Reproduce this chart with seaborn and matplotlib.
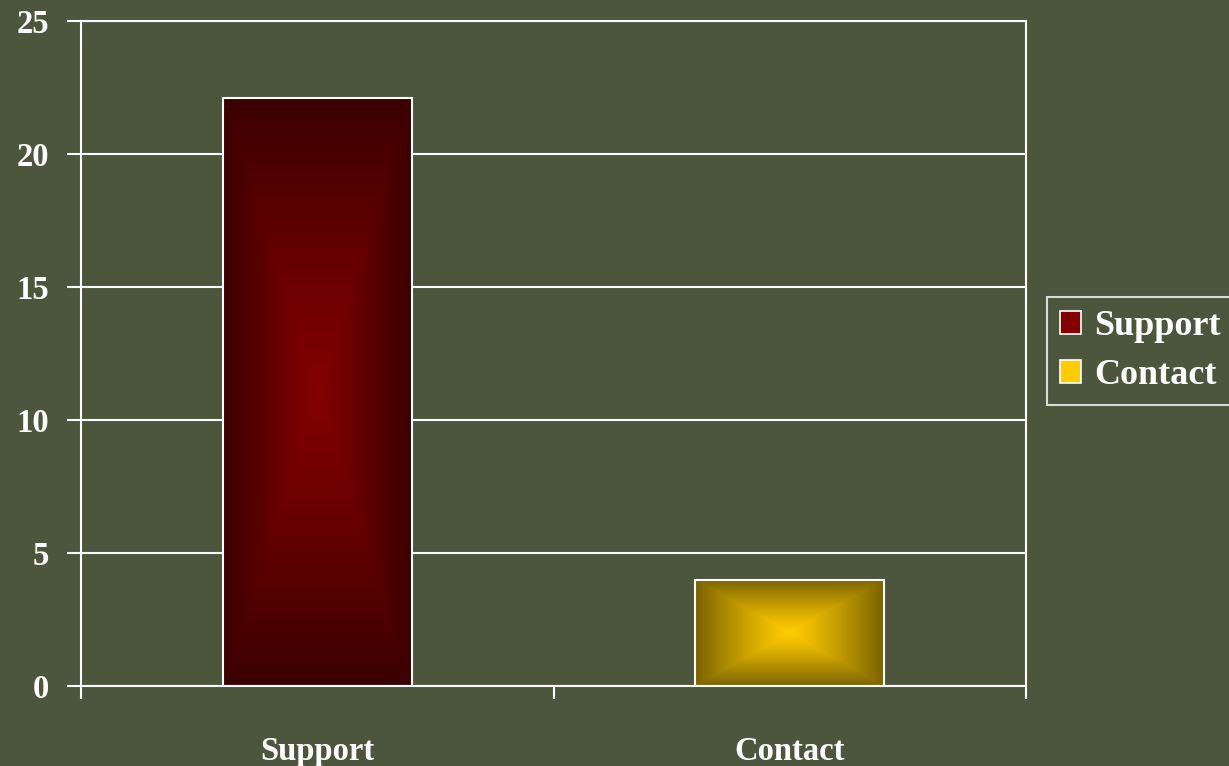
import numpy as np
import pandas as pd
import matplotlib
matplotlib.use("Agg")
import matplotlib.pyplot as plt
from matplotlib.colors import LinearSegmentedColormap
from matplotlib.patches import Patch
import seaborn as sns

categories = ["Support", "Contact"]
values = [22.1, 4.0]
yticks = [0, 5, 10, 15, 20, 25]

bg = "#4B563C"
edge_colors = ["#3A0000", "#7A6200"]
center_colors = ["#820000", "#FFCC00"]

sns.set_theme(style="white")
plt.rcParams["font.family"] = ["Liberation Serif", "DejaVu Serif"]
plt.rcParams["font.weight"] = "bold"

fig = plt.figure(figsize=(12.29, 7.66), dpi=100, facecolor=bg)
ax = fig.add_axes([81/1229, 1-686/766, (1026-81)/1229, (686-21)/766])
ax.set_facecolor(bg)

df = pd.DataFrame({"cat": categories, "val": values})
sns.barplot(data=df, x="cat", y="val", hue="cat", palette=center_colors,
            width=0.4, ax=ax, legend=False, edgecolor="white", linewidth=1.5)

ax.set_xlim(-0.5, 1.5)
ax.set_ylim(0, 25)
ax.set_axisbelow(True)
ax.yaxis.grid(True, color="white", linewidth=1.5)
ax.set_yticks(yticks)

# gradient fills
n = 200
yy, xx = np.mgrid[-1:1:complex(0, n), -1:1:complex(0, n)]
r = np.maximum(np.abs(xx), np.abs(yy)) ** 1.2
for p, ec, cc in zip(ax.patches, edge_colors, center_colors):
    cmap = LinearSegmentedColormap.from_list("g", [cc, ec])
    x0, y0 = p.get_x(), p.get_y()
    w, h = p.get_width(), p.get_height()
    im = ax.imshow(r, cmap=cmap, extent=[x0, x0 + w, y0, y0 + h],
                   aspect="auto", zorder=1.5, interpolation="bilinear", origin="lower")
    im.set_clip_path(p)
    p.set_facecolor("none")
    p.set_zorder(2)

ax.set_xlim(-0.5, 1.5)
ax.set_ylim(0, 25)

for s in ax.spines.values():
    s.set_color("white")
    s.set_linewidth(1.5)

ax.set_xlabel("")
ax.set_ylabel("")
ax.tick_params(axis="y", colors="white", length=10, width=1.5, direction="out",
               pad=13, labelsize=23.5, left=True)
ax.tick_params(axis="x", which="major", length=0, pad=36, labelsize=23.5, colors="white")
ax.set_xticks([-0.5, 0.5, 1.5], minor=True)
ax.tick_params(axis="x", which="minor", length=9, width=1.5, color="white",
               direction="out", bottom=True)
for lab in ax.get_xticklabels() + ax.get_yticklabels():
    lab.set_color("white")
    lab.set_fontweight("bold")

handles = [Patch(facecolor=c, edgecolor="white", linewidth=1.2) for c in center_colors]
leg = fig.legend(handles, categories, loc="center left",
                 bbox_to_anchor=(1047/1229, 1-351/766), frameon=True,
                 fontsize=26, handlelength=0.6, handleheight=0.6,
                 handletextpad=0.35, borderpad=0.35, labelspacing=0.45,
                 fancybox=False, borderaxespad=0)
leg.get_frame().set_facecolor(bg)
leg.get_frame().set_edgecolor("white")
leg.get_frame().set_linewidth(1.5)
for t in leg.get_texts():
    t.set_color("white")
    t.set_fontweight("bold")

fig.savefig("out.png", dpi=100, facecolor=bg)
